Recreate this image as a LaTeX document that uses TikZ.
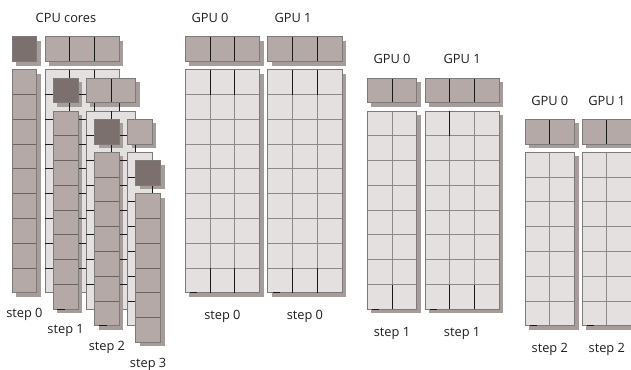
\documentclass[tikz,border=0pt]{standalone}
\usepackage{fontspec}
\setmainfont{Open Sans}
\definecolor{midc}{RGB}{180,169,166}
\definecolor{darkc}{RGB}{123,112,110}
\definecolor{lightc}{RGB}{228,224,223}
\definecolor{shadowc}{RGB}{166,156,153}
\definecolor{edgec}{RGB}{125,122,121}
\definecolor{gridc}{RGB}{140,138,137}
\definecolor{sepc}{RGB}{105,100,99}
\definecolor{textc}{RGB}{30,30,30}
\def\cellsz{24.75}
\newcommand{\ShadowRect}[4]{\fill[shadowc] ({#1+4},{#2+4}) rectangle ({#1+#3+4},{#2+#4+4});}
% row piece: x y n
\newcommand{\HRow}[3]{%
  \pgfmathsetmacro\rw{#3*\cellsz}%
  \fill[midc] (#1,#2) rectangle ({#1+\rw},{#2+\cellsz});
  \pgfmathtruncatemacro\rn{#3-1}%
  \ifnum\rn>0
    \foreach \i in {1,...,\rn}{\draw[sepblack] ({#1+\i*\cellsz},#2) -- ++(0,\cellsz);}
  \fi
  \draw[edge] (#1,#2) rectangle ({#1+\rw},{#2+\cellsz});
}
% column piece: x y n
\newcommand{\VCol}[3]{%
  \pgfmathsetmacro\rh{#3*\cellsz}%
  \fill[midc] (#1,#2) rectangle ({#1+\cellsz},{#2+\rh});
  \pgfmathtruncatemacro\rn{#3-1}%
  \ifnum\rn>0
    \foreach \i in {1,...,\rn}{\draw[sepgray] (#1,{#2+\i*\cellsz}) -- ++(\cellsz,0);}
  \fi
  \draw[edge] (#1,#2) rectangle ({#1+\cellsz},{#2+\rh});
}
\newcommand{\DarkSq}[2]{%
  \fill[darkc] (#1,#2) rectangle ({#1+\cellsz},{#2+\cellsz});
  \draw[edge] (#1,#2) rectangle ({#1+\cellsz},{#2+\cellsz});
}
% background fill: x y ncols nrows
\newcommand{\BgFill}[4]{%
  \fill[lightc] (#1,#2) rectangle ({#1+#3*\cellsz},{#2+#4*\cellsz});
  \draw[edge] (#1,#2) rectangle ({#1+#3*\cellsz},{#2+#4*\cellsz});
}
% background black lines: x y ncols nrows
\newcommand{\BgLines}[4]{%
  \pgfmathtruncatemacro\cn{#3-1}%
  \pgfmathtruncatemacro\rn{#4-1}%
  \ifnum\cn>0
    \foreach \i in {1,...,\cn}{\draw[sepblack] ({#1+\i*\cellsz},#2) -- ++(0,{#4*\cellsz});}
  \fi
  \foreach \j in {1,...,\rn}{\draw[sepblack] (#1,{#2+\j*\cellsz}) -- ++({#3*\cellsz},0);}
  \draw[sepblack] ({#1+#3*\cellsz},{#2+8.25+\cellsz}) -- ++(0,8.25);
}
% GPU grid: x y ncols nrows
\newcommand{\GGrid}[4]{%
  \pgfmathsetmacro\rw{#3*\cellsz}%
  \pgfmathsetmacro\rh{#4*\cellsz}%
  \ShadowRect{#1}{#2}{\rw}{\rh}
  \fill[lightc] (#1,#2) rectangle ({#1+\rw},{#2+\rh});
  \pgfmathtruncatemacro\cn{#3-1}%
  \pgfmathtruncatemacro\rn{#4-1}%
  \foreach \i in {1,...,\cn}{\draw[gridl] ({#1+\i*\cellsz},#2) -- ++(0,\rh);}
  \foreach \j in {1,...,\rn}{\draw[gridl] (#1,{#2+\j*\cellsz}) -- ++(\rw,0);}
  \draw[edge] (#1,#2) rectangle ({#1+\rw},{#2+\rh});
  \draw[sepblack] ({#1+5},{#2+\rh}) -- ++(7,0);
}
% black vertical segment in one cell row: x y (top of that row)
\newcommand{\BTick}[2]{\draw[sepblack] (#1,#2) -- ++(0,\cellsz);}
\newcommand{\GHead}[3]{%
  \ShadowRect{#1}{#2}{#3*\cellsz}{\cellsz}
  \HRow{#1}{#2}{#3}
}
\begin{document}
\begin{tikzpicture}[x=0.75pt,y=-0.75pt,
  edge/.style={draw=edgec,line width=0.75pt},
  sepblack/.style={draw=black!90,line width=0.75pt},
  sepgray/.style={draw=sepc,line width=0.75pt},
  gridl/.style={draw=gridc,line width=0.75pt},
  lbl/.style={font=\fontsize{9.6}{11}\selectfont,text=textc,inner sep=0pt}]
\useasboundingbox (0,0) rectangle (631,370);
\clip (0,0) rectangle (631,370);
\fill[white] (0,0) rectangle (631,370);

% ---------- CPU step 0
\ShadowRect{12}{37}{\cellsz}{\cellsz}
\ShadowRect{45}{37}{3*\cellsz}{\cellsz}
\ShadowRect{12}{70}{\cellsz}{9*\cellsz}
\DarkSq{12}{37}
\HRow{45}{37}{3}
\VCol{12}{70}{9}
% ---------- CPU step 1
\BgFill{45}{70}{3}{9}
\ShadowRect{53.25}{78.25}{\cellsz}{\cellsz}
\ShadowRect{86.25}{78.25}{2*\cellsz}{\cellsz}
\ShadowRect{53.25}{111.25}{\cellsz}{8*\cellsz}
\BgLines{45}{70}{3}{9}
\DarkSq{53.25}{78.25}
\HRow{86.25}{78.25}{2}
\VCol{53.25}{111.25}{8}
\draw[sepblack] (57.25,{111.25+8*\cellsz}) -- ++(8,0);
% ---------- CPU step 2
\BgFill{86.25}{111.25}{2}{8}
\ShadowRect{94.5}{119.5}{\cellsz}{\cellsz}
\ShadowRect{127.5}{119.5}{\cellsz}{\cellsz}
\ShadowRect{94.5}{152.5}{\cellsz}{7*\cellsz}
\BgLines{86.25}{111.25}{2}{8}
\DarkSq{94.5}{119.5}
\HRow{127.5}{119.5}{1}
\VCol{94.5}{152.5}{7}
\draw[sepblack] (98.5,{152.5+7*\cellsz}) -- ++(8,0);
% ---------- CPU step 3
\BgFill{127.5}{152.5}{1}{7}
\ShadowRect{135.75}{160.75}{\cellsz}{\cellsz}
\ShadowRect{135.75}{193.75}{\cellsz}{6*\cellsz}
\BgLines{127.5}{152.5}{1}{7}
\DarkSq{135.75}{160.75}
\VCol{135.75}{193.75}{6}

\node[lbl] (cpu) at (66,18) {CPU cores};
\node[lbl,anchor=base] (s0) at (24.4,317.5) {step 0};
\node[lbl,anchor=base] (s1) at (65.6,333.5) {step 1};
\node[lbl,anchor=base] (s2) at (106.9,350.5) {step 2};
\node[lbl,anchor=base] (s3) at (148.1,367) {step 3};

% ---------- GPU step 0
\GHead{185.25}{37}{3}
\GHead{267.75}{37}{3}
\GGrid{185.25}{70}{3}{9}
\GGrid{267.75}{70}{3}{9}
\foreach \xx in {210,234.75,292.5,317.25}{\BTick{\xx}{70}\BTick{\xx}{268}}
\node[lbl] (g00) at (210,17.5) {GPU 0};
\node[lbl] (g01) at (293,17.5) {GPU 1};
\node[lbl,anchor=base] (gs00) at (222.4,319.5) {step 0};
\node[lbl,anchor=base] (gs01) at (304.9,319.5) {step 0};

% ---------- GPU step 1
\GHead{367.25}{78.25}{2}
\GHead{425}{78.25}{3}
\GGrid{367.25}{111.25}{2}{8}
\GGrid{425}{111.25}{3}{8}
\BTick{449.75}{111.25}
\foreach \xx in {392,449.75,474.5}{\BTick{\xx}{284.5}}
\node[lbl] (g10) at (392,59) {GPU 0};
\node[lbl] (g11) at (462.1,59) {GPU 1};
\node[lbl,anchor=base] (gs10) at (392,336) {step 1};
\node[lbl,anchor=base] (gs11) at (462.1,336) {step 1};

% ---------- GPU step 2
\GHead{525}{119.5}{2}
\GHead{582}{119.5}{2}
\GGrid{525}{152.5}{2}{7}
\GGrid{582}{152.5}{2}{7}
\node[lbl] (g20) at (549.8,100.5) {GPU 0};
\node[lbl] (g21) at (606.8,100.5) {GPU 1};
\node[lbl,anchor=base] (gs20) at (549.8,352) {step 2};
\node[lbl,anchor=base] (gs21) at (606.8,352) {step 2};
\end{tikzpicture}
\end{document}
